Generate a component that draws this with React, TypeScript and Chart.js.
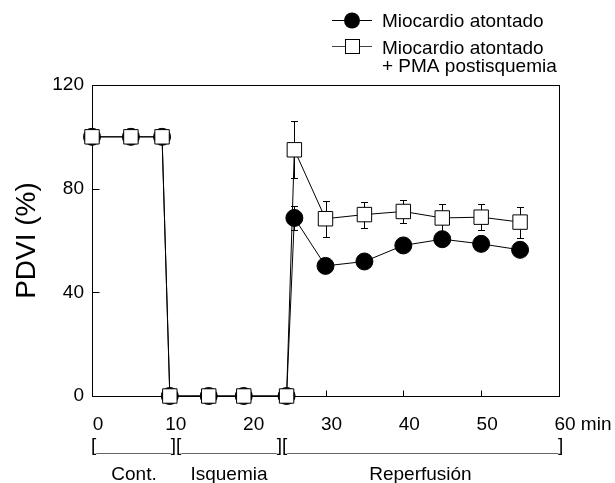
import { useEffect, useRef } from "react";
import { Chart, registerables } from "chart.js";
Chart.register(...registerables);

// ---- data ----
const times = [0, 5, 9, 10, 15, 19.5, 25, 26, 30, 35, 40, 45, 50, 55];
const stunnedValues = [100, 100, 100, 0, 0, 0, 0, 68.7, 50.2, 51.9, 58.1, 60.5, 58.7, 56.4];
const stunnedErrors = [0, 0, 0, 0, 0, 0, 0, 4.5, 2.5, 2.5, 2.5, 2.5, 2.5, 2.5];
const pmaValues = [100, 100, 100, 0, 0, 0, 0, 95, 68.4, 70, 71.2, 68.7, 69, 67.1];
const pmaErrors = [0, 0, 0, 0, 0, 0, 0, 11, 7, 5, 4.3, 5.3, 5, 6];
const xTicks = [0, 10, 20, 30, 40, 50, 60];
const xUnit = "min";
const yTicks = [0, 40, 80, 120];
const phaseBounds = [0, 10.8, 24.4, 60];
const phaseLabels = ["Cont.", "Isquemia", "Reperfusión"];
const stunnedLegend = ["Miocardio atontado"];
const pmaLegend = ["Miocardio atontado", "+ PMA postisquemia"];
const yTitle = "PDVI (%)";

const FONT = "'Liberation Sans', Arial, Helvetica, sans-serif";

export default function App() {
  const ref = useRef<HTMLCanvasElement>(null);
  useEffect(() => {
    document.body.style.margin = "0";
    const canvas = ref.current!;

    const decor = {
      id: "decor",
      beforeDatasetsDraw(chart: any) {
        const { ctx, chartArea: a, scales } = chart;
        const xs = scales.x, ys = scales.y;
        ctx.save();
        ctx.strokeStyle = "#000";
        ctx.lineWidth = 1;
        const L = Math.round(a.left) + 0.5, R = Math.round(a.right) + 0.5;
        const T = Math.round(a.top) + 0.5, B = Math.round(a.bottom) + 0.5;
        ctx.strokeRect(L, T, R - L, B - T);
        ctx.beginPath();
        xTicks.forEach((v) => {
          const x = Math.round(xs.getPixelForValue(v)) + 0.5;
          ctx.moveTo(x, B);
          ctx.lineTo(x, B - 6);
        });
        yTicks.forEach((v) => {
          const y = Math.round(ys.getPixelForValue(v)) + 0.5;
          ctx.moveTo(L, y);
          ctx.lineTo(L + 7, y);
        });
        ctx.stroke();
        // error bars
        const drawErr = (vals: number[], errs: number[]) => {
          ctx.beginPath();
          vals.forEach((v, i) => {
            const e = errs[i];
            if (!e) return;
            const x = Math.round(xs.getPixelForValue(times[i])) + 0.5;
            const yt = Math.round(ys.getPixelForValue(v + e)) + 0.5;
            const yb = Math.round(ys.getPixelForValue(v - e)) + 0.5;
            ctx.moveTo(x, yt);
            ctx.lineTo(x, yb);
            ctx.moveTo(x - 3.5, yt);
            ctx.lineTo(x + 3.5, yt);
            ctx.moveTo(x - 3.5, yb);
            ctx.lineTo(x + 3.5, yb);
          });
          ctx.stroke();
        };
        drawErr(stunnedValues, stunnedErrors);
        drawErr(pmaValues, pmaErrors);
        ctx.restore();
      },
      afterDraw(chart: any) {
        const { ctx, scales } = chart;
        const xs = scales.x;
        ctx.save();
        ctx.fillStyle = "#000";
        ctx.font = `19px ${FONT}`;
        ctx.textBaseline = "alphabetic";
        // x tick labels
        xTicks.forEach((v, i) => {
          const x = xs.getPixelForValue(v) + 6;
          const s = String(v);
          const w = ctx.measureText(s).width;
          ctx.textAlign = "left";
          ctx.fillText(s, x - w / 2, 429.5);
          if (i === xTicks.length - 1) {
            ctx.fillText(" " + xUnit, x + w / 2, 429.5);
          }
        });
        // phase brackets
        const bw = ctx.measureText("]").width;
        const by = 451;
        for (let p = 0; p < phaseLabels.length; p++) {
          const s = xs.getPixelForValue(phaseBounds[p]);
          const e = xs.getPixelForValue(phaseBounds[p + 1]);
          const first = p === 0;
          const last = p === phaseLabels.length - 1;
          const lx = first ? s - 1 : s;
          const rx = last ? e - 1 : e - bw;
          ctx.textAlign = "left";
          ctx.fillText("[", lx, by);
          ctx.fillText("]", rx, by);
          ctx.fillStyle = "#666";
          ctx.fillRect(lx + bw, 453, rx - lx - bw, 1);
          ctx.fillStyle = "#000";
          ctx.textAlign = "center";
          ctx.fillText(phaseLabels[p], (s + e) / 2, 480);
        }
        // legend
        const lx0 = 332, lx1 = 372, mx = 352, tx = 382;
        ctx.textAlign = "left";
        // row 1: filled circle
        ctx.strokeStyle = "#000";
        ctx.lineWidth = 1;
        ctx.beginPath();
        ctx.moveTo(lx0, 20.5);
        ctx.lineTo(lx1, 20.5);
        ctx.stroke();
        ctx.beginPath();
        ctx.arc(mx, 20.5, 8, 0, Math.PI * 2);
        ctx.fill();
        stunnedLegend.forEach((t, i) => ctx.fillText(t, tx, 27 + i * 19));
        // row 2: open square
        ctx.strokeStyle = "#444";
        ctx.beginPath();
        ctx.moveTo(lx0, 46.5);
        ctx.lineTo(lx1, 46.5);
        ctx.stroke();
        ctx.fillStyle = "#fff";
        ctx.strokeStyle = "#000";
        ctx.fillRect(mx - 7, 39.5, 14, 14);
        ctx.strokeRect(mx - 7 + 0.5, 39.5, 14, 14);
        ctx.fillStyle = "#000";
        pmaLegend.forEach((t, i) => ctx.fillText(t, tx, 53.5 + i * 18.5));
        ctx.restore();
      },
    };

    const chart = new Chart(canvas, {
      type: "line",
      data: {
        datasets: [
          {
            label: pmaLegend.join(" "),
            data: times.map((t, i) => ({ x: t, y: pmaValues[i] })),
            borderColor: "#000",
            borderWidth: 1,
            pointStyle: "rect",
            pointRadius: 10.2,
            pointBackgroundColor: "#fff",
            pointBorderColor: "#000",
            pointBorderWidth: 1,
            tension: 0,
            clip: false,
            order: 0,
          },
          {
            label: stunnedLegend.join(" "),
            data: times.map((t, i) => ({ x: t, y: stunnedValues[i] })),
            borderColor: "#000",
            borderWidth: 1,
            pointStyle: "circle",
            pointRadius: 8.5,
            pointBackgroundColor: "#000",
            pointBorderColor: "#000",
            pointBorderWidth: 1,
            tension: 0,
            clip: false,
            order: 1,
          },
        ],
      },
      options: {
        animation: false,
        responsive: false,
        devicePixelRatio: 1,
        layout: { padding: { left: 0, right: 56, top: 85, bottom: 87 } },
        plugins: { legend: { display: false }, tooltip: { enabled: false } },
        scales: {
          x: { type: "linear", min: 0, max: 60, display: false },
          y: {
            min: 0,
            max: 120,
            afterBuildTicks: (s: any) => {
              s.ticks = yTicks.map((v) => ({ value: v }));
            },
            afterFit: (s: any) => {
              s.width = 92;
            },
            grid: { display: false, drawTicks: false },
            border: { display: false },
            ticks: {
              color: "#000",
              padding: 8,
              font: { family: FONT, size: 19 },
            },
            title: {
              display: true,
              text: yTitle,
              color: "#000",
              padding: { top: 10, bottom: 0 },
              font: { family: FONT, size: 28 },
            },
          },
        },
      },
      plugins: [decor],
    } as any);
    return () => chart.destroy();
  }, []);
  return <canvas ref={ref} width={615} height={483} style={{ display: "block" }} />;
}
